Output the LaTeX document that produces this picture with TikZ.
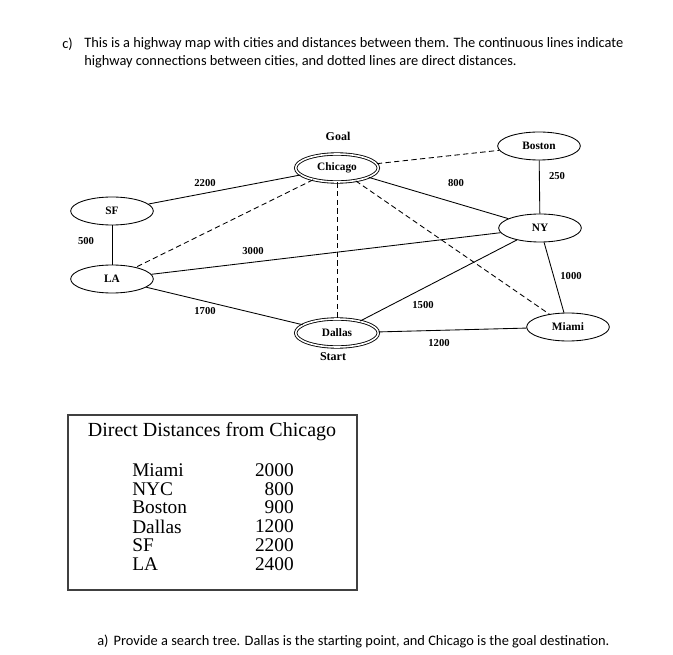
\documentclass[tikz,border=0pt]{standalone}
\usepackage{fontspec}
\setmainfont{Liberation Serif}
\newfontfamily\notefont{Carlito}
\usetikzlibrary{shapes.geometric}

\begin{document}
\begin{tikzpicture}[x=0.75pt,y=-0.75pt,every node/.style={inner sep=0}]
\tikzset{city/.style={ellipse, draw, line width=0.65pt, minimum width=62pt, minimum height=21pt, font=\fontsize{8.5}{9}\selectfont\bfseries},
  endcity/.style={city, double, double distance=1.2pt},
  road/.style={line width=0.65pt},
  direct/.style={line width=0.65pt, dash pattern=on 4pt off 2.5pt},
  dist/.style={font=\fontsize{8}{9}\selectfont\bfseries},
  tabtxt/.style={font=\fontsize{14.5}{16}\selectfont},
  note/.style={anchor=west, font=\notefont\fontsize{10.8}{13}\selectfont}}
\useasboundingbox (0,0) rectangle (673,655);
% question text
\node[note] (qc) at (62,44) {c)};
\node[note] (q1) at (84,44) {This is a highway map with cities and distances between them. The continuous lines indicate};
\node[note] (q2) at (84,62) {highway connections between cities, and dotted lines are direct distances.};
% cities
\node[endcity] (chi) at (337,168) {Chicago};
\node[endcity] (dal) at (337,333) {Dallas};
\node[city] (sf) at (112,211) {SF};
\node[city] (la) at (112,279) {LA};
\node[city] (bos) at (539,146) {Boston};
\node[city] (ny) at (540,228) {NY};
\node[city] (mia) at (568,327) {Miami};
\node[dist, font=\fontsize{9}{10}\selectfont\bfseries] (goal) at (338,136) {Goal};
\node[dist, font=\fontsize{9}{10}\selectfont\bfseries] (start) at (333,357) {Start};
% highways
\draw[road] (sf) -- (chi);
\draw[road] (sf) -- (la);
\draw[road] (la) -- (ny);
\draw[road] (la) -- (dal);
\draw[road] (chi) -- (ny);
\draw[road] (bos) -- (ny);
\draw[road] (dal) -- (ny);
\draw[road] (ny) -- (mia);
\draw[road] (dal) -- (mia);
% direct distances
\draw[direct] (chi) -- (bos);
\draw[direct] (chi) -- (la);
\draw[direct] (chi) -- (dal);
\draw[direct] (chi) -- (mia);
% highway lengths
\node[dist] (d2200) at (205,183) {2200};
\node[dist] (d500) at (86,241) {500};
\node[dist] (d3000) at (253,251) {3000};
\node[dist] (d1700) at (205,311) {1700};
\node[dist] (d800) at (456,183) {800};
\node[dist] (d250) at (557,176) {250};
\node[dist] (d1000) at (571,276) {1000};
\node[dist] (d1500) at (423,305) {1500};
\node[dist] (d1200) at (439,343) {1200};
% table of direct distances
\draw[line width=1.3pt, draw=black!75] (68,415) rectangle (357,590);
\node[font=\fontsize{15}{17}\selectfont] (ttl) at (212,432) {Direct Distances from Chicago};
\foreach \nm/\d [count=\i] in {Miami/2000, NYC/800, Boston/900, Dallas/1200, SF/2200, LA/2400}{
  \node[tabtxt, anchor=west] (nm\i) at (132,{470+(\i-1)*18.8}) {\nm};
  \node[tabtxt, anchor=east] (km\i) at (294,{470+(\i-1)*18.8}) {\d};
}
% task text
\node[note] (qa) at (97,641) {a)\hspace{0.35em}Provide a search tree. Dallas is the starting point, and Chicago is the goal destination.};
\end{tikzpicture}
\end{document}
